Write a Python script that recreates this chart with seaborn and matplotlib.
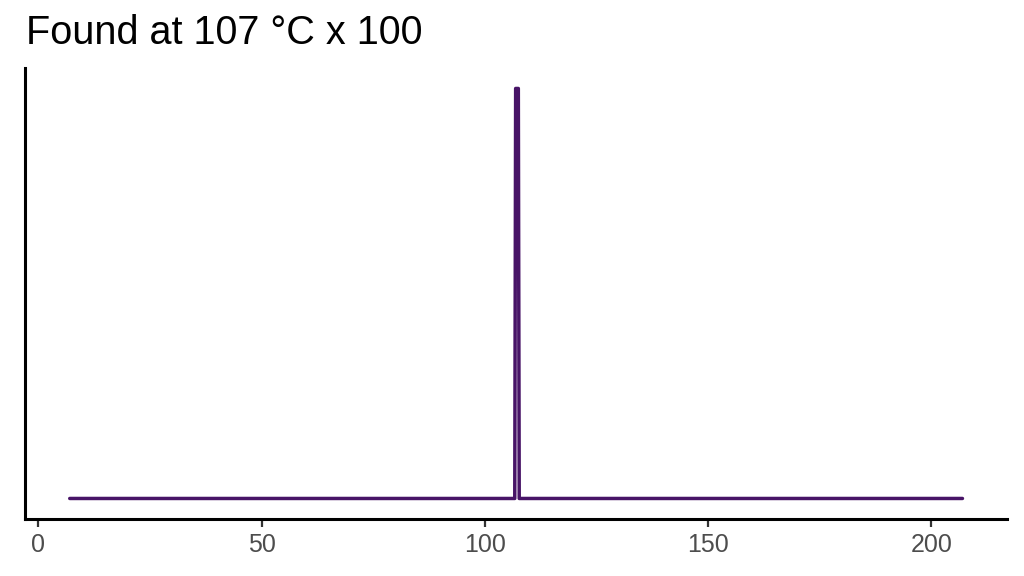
import pandas as pd
import seaborn as sns
import matplotlib.pyplot as plt

# Data: flat trace with a single sharp peak at 107 °C
temperature = [7, 106.7, 106.9, 107.5, 107.7, 207]
signal = [0, 0, 1, 1, 0, 0]
x_ticks = [0, 50, 100, 150, 200]

df = pd.DataFrame({'temperature': temperature, 'signal': signal})

sns.set_style('ticks')
plt.rcParams['font.family'] = ['Liberation Sans', 'DejaVu Sans']

fig = plt.figure(figsize=(10.24, 5.76), dpi=100)
ax = fig.add_axes([0.0245, 0.099, 0.959, 0.783])

sns.lineplot(data=df, x='temperature', y='signal', ax=ax,
             color='#481467', linewidth=2.5, sort=False)

ax.set_xlim(-3, 217)
ax.set_ylim(-0.05, 1.05)
ax.set_xticks(x_ticks)
ax.set_yticks([])
ax.set_xlabel('')
ax.set_ylabel('')

sns.despine(ax=ax)
for side in ['left', 'bottom']:
    ax.spines[side].set_linewidth(2.2)
    ax.spines[side].set_color('black')

ax.tick_params(axis='x', length=6, width=1.6, color='#333333',
               labelsize=18, labelcolor='#4D4D4D', pad=4)

fig.text(0.025, 0.91, 'Found at 107 °C x 100', fontsize=28.5,
         color='black', ha='left', va='bottom')

fig.savefig('out.png', dpi=100)
